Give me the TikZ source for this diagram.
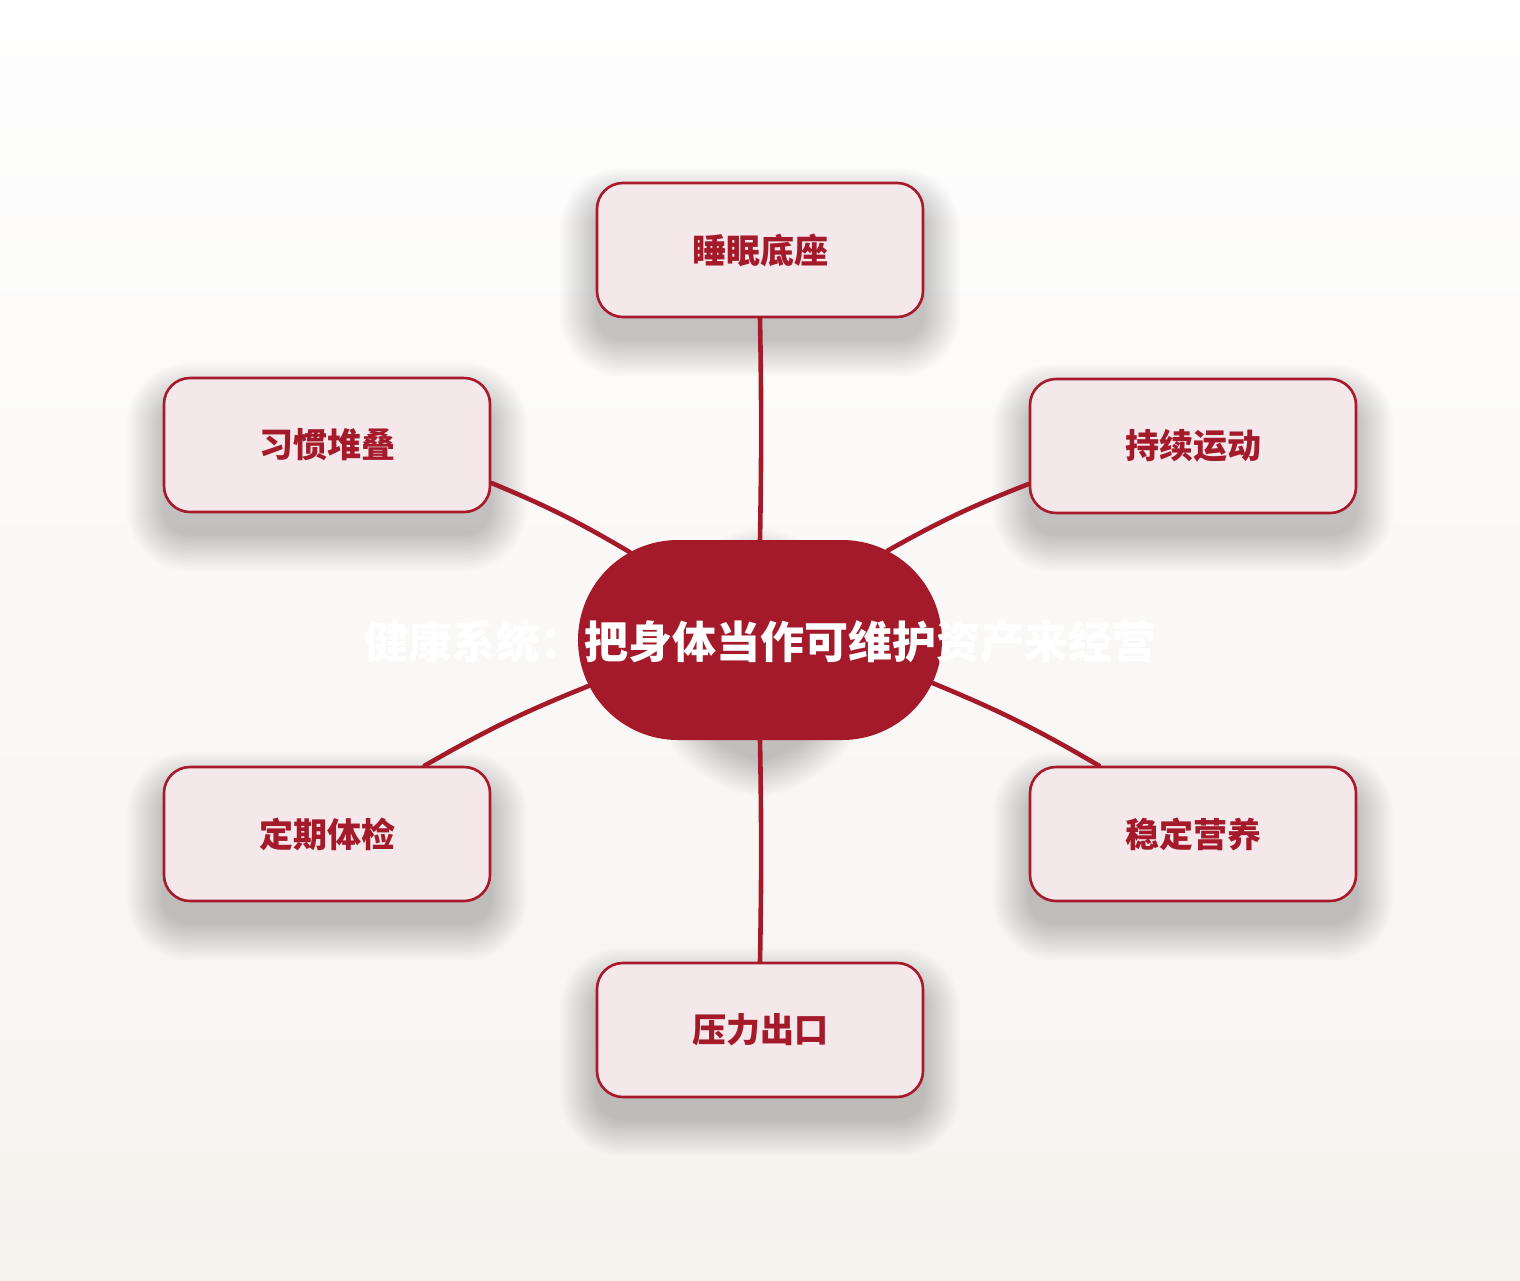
\documentclass[tikz,border=0pt]{standalone}
\usepackage{fontspec}
\newfontfamily\cjk{Noto Sans CJK SC}
\usetikzlibrary{shapes.misc,calc}
\definecolor{deepred}{HTML}{A41A2A}
\definecolor{edgered}{HTML}{A8192B}
\definecolor{pinkfill}{HTML}{F4E8EA}
\definecolor{bgtop}{HTML}{FEFEFE}
\definecolor{bgbot}{HTML}{F6F3EF}
\pgfdeclarelayer{bglayer}
\pgfdeclarelayer{shadowlayer}
\pgfdeclarelayer{linelayer}
\pgfsetlayers{bglayer,shadowlayer,linelayer,main}
\tikzset{
  leaf/.style={draw=edgered, line width=2.6pt, fill=pinkfill, rounded corners=26pt,
    minimum width=326pt, minimum height=134pt, inner sep=0pt,
    text=deepred, font=\cjk\bfseries\fontsize{34}{40}\selectfont},
  hub/.style={rounded rectangle, fill=deepred, draw=none,
    minimum width=364pt, minimum height=200pt, inner sep=0pt},
  hubtext/.style={text=white, font=\cjk\bfseries\fontsize{44}{50}\selectfont, inner sep=0pt},
  link/.style={draw=deepred, line width=4.6pt, line cap=round},
  shadowstep/.style={fill=black, fill opacity=0.011, draw=none}
}
% soft shadow under a node: #1 node name, #2 base corner radius
\newcommand{\softshade}[2]{%
  \begin{pgfonlayer}{shadowlayer}
  \foreach \i [evaluate=\i as \d using 2*\i, evaluate=\i as \r using #2+2*\i] in {0,...,18}{
    \fill[shadowstep, rounded corners=\r pt]
      ($(#1.south west)+(-\d,22+\d)$) rectangle ($(#1.north east)+(\d,22-\d)$);
  }
  \end{pgfonlayer}}
\begin{document}
\begin{tikzpicture}[x=1pt,y=-1pt]
\useasboundingbox (0,0) rectangle (1520,1280);
\begin{pgfonlayer}{bglayer}
\shade[top color=bgtop, bottom color=bgbot] (0,0) rectangle (1520,1280);
\end{pgfonlayer}

\node[hub] (c) at (760,640) {};
\node[hubtext] (title) at (760,642) {健康系统：把身体当作可维护资产来经营};

\node[leaf] (top) at (760,250) {睡眠底座};
\node[leaf] (ul) at (327,445) {习惯堆叠};
\node[leaf] (ur) at (1193,446) {持续运动};
\node[leaf] (ll) at (327,834) {定期体检};
\node[leaf] (lr) at (1193,834) {稳定营养};
\node[leaf] (bot) at (760,1030) {压力出口};

\softshade{c}{100}
\softshade{top}{26}
\softshade{ul}{26}
\softshade{ur}{26}
\softshade{ll}{26}
\softshade{lr}{26}
\softshade{bot}{26}

\begin{pgfonlayer}{linelayer}
\draw[link] (top.south) to[bend left=1] (c.north);
\draw[link] (ul.-13) to[bend left=4] (c.146);
\draw[link] (ur.193.8) to[bend right=4] (c.35);
\draw[link] (ll.35.8) to[bend left=4] (c.-165.6);
\draw[link] (lr.144.2) to[bend right=4] (c.-14.4);
\draw[link] (bot.north) to[bend right=1] (c.south);
\end{pgfonlayer}
\end{tikzpicture}
\end{document}
